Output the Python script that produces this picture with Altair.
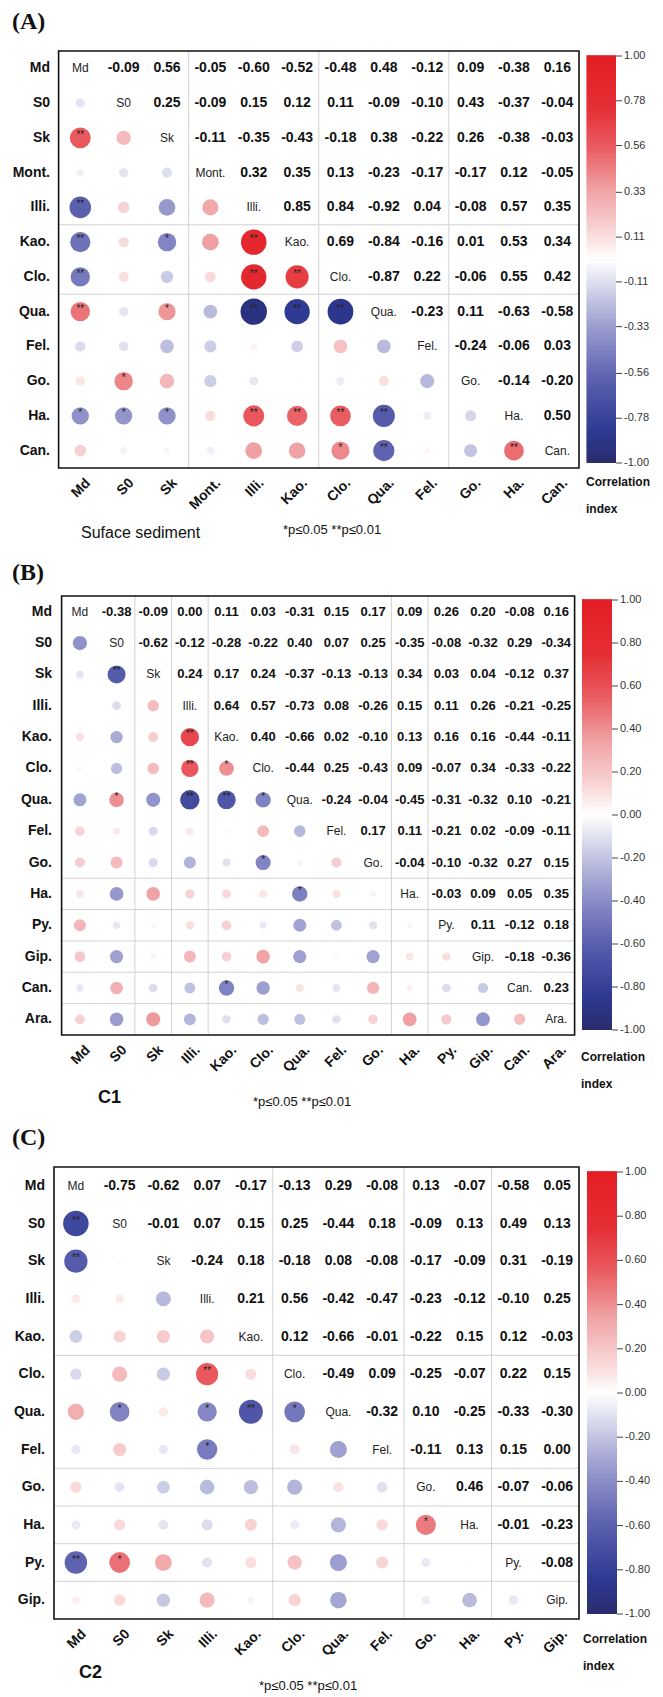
import altair as alt
import pandas as pd
import numpy as np

# ---------------- data ----------------
A_names = ["Md", "S0", "Sk", "Mont.", "Illi.", "Kao.", "Clo.", "Qua.", "Fel.", "Go.", "Ha.", "Can."]
A_upper = [
    [-0.09, 0.56, -0.05, -0.60, -0.52, -0.48, 0.48, -0.12, 0.09, -0.38, 0.16],
    [0.25, -0.09, 0.15, 0.12, 0.11, -0.09, -0.10, 0.43, -0.37, -0.04],
    [-0.11, -0.35, -0.43, -0.18, 0.38, -0.22, 0.26, -0.38, -0.03],
    [0.32, 0.35, 0.13, -0.23, -0.17, -0.17, 0.12, -0.05],
    [0.85, 0.84, -0.92, 0.04, -0.08, 0.57, 0.35],
    [0.69, -0.84, -0.16, 0.01, 0.53, 0.34],
    [-0.87, 0.22, -0.06, 0.55, 0.42],
    [-0.23, 0.11, -0.63, -0.58],
    [-0.24, -0.06, 0.03],
    [-0.14, -0.20],
    [0.50],
]
A_stars = [("Sk", "Md", "**"), ("Illi.", "Md", "**"), ("Kao.", "Md", "**"), ("Kao.", "Sk", "*"),
           ("Kao.", "Illi.", "**"), ("Clo.", "Md", "**"), ("Clo.", "Illi.", "**"), ("Clo.", "Kao.", "**"),
           ("Qua.", "Md", "**"), ("Qua.", "Sk", "*"), ("Qua.", "Illi.", "**"), ("Qua.", "Kao.", "**"),
           ("Qua.", "Clo.", "**"), ("Go.", "S0", "*"), ("Ha.", "Md", "*"), ("Ha.", "S0", "*"),
           ("Ha.", "Sk", "*"), ("Ha.", "Illi.", "**"), ("Ha.", "Kao.", "**"), ("Ha.", "Clo.", "**"),
           ("Ha.", "Qua.", "**"), ("Can.", "Clo.", "*"), ("Can.", "Qua.", "**"), ("Can.", "Ha.", "**")]
A_vlines = ["Mont.", "Clo.", "Go."]
A_hlines = ["Kao.", "Qua."]
A_ticks = ["1.00", "0.78", "0.56", "0.33", "0.11", "-0.11", "-0.33", "-0.56", "-0.78", "-1.00"]

B_names = ["Md", "S0", "Sk", "Illi.", "Kao.", "Clo.", "Qua.", "Fel.", "Go.", "Ha.", "Py.", "Gip.", "Can.", "Ara."]
B_upper = [
    [-0.38, -0.09, 0.00, 0.11, 0.03, -0.31, 0.15, 0.17, 0.09, 0.26, 0.20, -0.08, 0.16],
    [-0.62, -0.12, -0.28, -0.22, 0.40, 0.07, 0.25, -0.35, -0.08, -0.32, 0.29, -0.34],
    [0.24, 0.17, 0.24, -0.37, -0.13, -0.13, 0.34, 0.03, 0.04, -0.12, 0.37],
    [0.64, 0.57, -0.73, 0.08, -0.26, 0.15, 0.11, 0.26, -0.21, -0.25],
    [0.40, -0.66, 0.02, -0.10, 0.13, 0.16, 0.16, -0.44, -0.11],
    [-0.44, 0.25, -0.43, 0.09, -0.07, 0.34, -0.33, -0.22],
    [-0.24, -0.04, -0.45, -0.31, -0.32, 0.10, -0.21],
    [0.17, 0.11, -0.21, 0.02, -0.09, -0.11],
    [-0.04, -0.10, -0.32, 0.27, 0.15],
    [-0.03, 0.09, 0.05, 0.35],
    [0.11, -0.12, 0.18],
    [-0.18, -0.36],
    [0.23],
]
B_stars = [("Sk", "S0", "**"), ("Kao.", "Illi.", "**"), ("Clo.", "Illi.", "**"), ("Clo.", "Kao.", "*"),
           ("Qua.", "S0", "*"), ("Qua.", "Illi.", "**"), ("Qua.", "Kao.", "**"), ("Qua.", "Clo.", "*"),
           ("Go.", "Clo.", "*"), ("Ha.", "Qua.", "*"), ("Can.", "Kao.", "*")]
B_vlines = ["Sk", "Illi.", "Kao.", "Ha.", "Py."]
B_hlines = ["Ha.", "Py.", "Gip.", "Can.", "Ara."]
B_ticks = ["1.00", "0.80", "0.60", "0.40", "0.20", "0.00", "-0.20", "-0.40", "-0.60", "-0.80", "-1.00"]

C_names = ["Md", "S0", "Sk", "Illi.", "Kao.", "Clo.", "Qua.", "Fel.", "Go.", "Ha.", "Py.", "Gip."]
C_upper = [
    [-0.75, -0.62, 0.07, -0.17, -0.13, 0.29, -0.08, 0.13, -0.07, -0.58, 0.05],
    [-0.01, 0.07, 0.15, 0.25, -0.44, 0.18, -0.09, 0.13, 0.49, 0.13],
    [-0.24, 0.18, -0.18, 0.08, -0.08, -0.17, -0.09, 0.31, -0.19],
    [0.21, 0.56, -0.42, -0.47, -0.23, -0.12, -0.10, 0.25],
    [0.12, -0.66, -0.01, -0.22, 0.15, 0.12, -0.03],
    [-0.49, 0.09, -0.25, -0.07, 0.22, 0.15],
    [-0.32, 0.10, -0.25, -0.33, -0.30],
    [-0.11, 0.13, 0.15, 0.00],
    [0.46, -0.07, -0.06],
    [-0.01, -0.23],
    [-0.08],
]
C_stars = [("S0", "Md", "**"), ("Sk", "Md", "**"), ("Clo.", "Illi.", "**"), ("Qua.", "S0", "*"),
           ("Qua.", "Illi.", "*"), ("Qua.", "Kao.", "**"), ("Qua.", "Clo.", "*"), ("Fel.", "Illi.", "*"),
           ("Ha.", "Go.", "*"), ("Py.", "Md", "**"), ("Py.", "S0", "*")]
C_vlines = ["Clo.", "Go.", "Py."]
C_hlines = ["Clo.", "Go.", "Ha.", "Py.", "Gip."]
C_ticks = B_ticks

# ---------------- style ----------------
OFF = 8
FONT = "Liberation Sans, Arial, Helvetica, sans-serif"
SERIF = "Liberation Serif, Times New Roman, serif"
C_DOM = [-1, -0.85, -0.6, -0.45, -0.3, -0.15, 0, 0.15, 0.35, 0.55, 0.75, 1]
C_RNG = ["#292c6c", "#2d3891", "#5a5fae", "#7d80c0", "#a4a6d3", "#d2d3e9", "#ffffff",
         "#f8d3d4", "#f0a0a3", "#e95c61", "#e52e35", "#e31e24"]


def cscale():
    return alt.Scale(domain=C_DOM, range=C_RNG, interpolate="rgb")


def one(t=""):
    return pd.DataFrame({"t": [t]})


def label(text, x, y, size, weight="normal", font=FONT, align="left", color="#111"):
    return alt.Chart(one(text)).mark_text(
        font=font, fontSize=size, fontWeight=weight, align=align, baseline="middle", color=color
    ).encode(x=alt.value(x - OFF), y=alt.value(y - OFF), text="t:N")


def panel(names, upper, stars, vlines, hlines, ticks, g):
    n = len(names)
    recs = []
    smap = {(a, b): s for a, b, s in stars}
    for i in range(n):
        for j in range(n):
            if i == j:
                kind, r = "diag", 1.0
            elif j > i:
                kind, r = "upper", upper[i][j - i - 1]
            else:
                kind, r = "lower", upper[j][i - j - 1]
            recs.append(dict(row=names[i], col=names[j], r=r, absr=abs(r), kind=kind,
                             txt=f"{r:.2f}", star=smap.get((names[i], names[j]), "")))
    df = pd.DataFrame(recs)
    L, R, T, B = [v - OFF for v in g["frame"]]

    def xs(shift=0):
        return alt.Scale(type="band", domain=names, range=[L + shift, R + shift],
                         paddingInner=0, paddingOuter=0)

    def ys(shift=0):
        return alt.Scale(type="band", domain=names, range=[T + shift, B + shift],
                         paddingInner=0, paddingOuter=0)

    X = alt.X("col:N", scale=xs(), axis=None)
    Y = alt.Y("row:N", scale=ys(), axis=None)
    layers = []
    # grid lines
    layers.append(alt.Chart(pd.DataFrame({"col": vlines})).mark_rule(color="#d2d2d2", strokeWidth=1).encode(
        x=alt.X("col:N", scale=xs(), axis=None, bandPosition=0), y=alt.value(T), y2=alt.value(B)))
    layers.append(alt.Chart(pd.DataFrame({"row": hlines})).mark_rule(color="#d2d2d2", strokeWidth=1).encode(
        y=alt.Y("row:N", scale=ys(), axis=None, bandPosition=0), x=alt.value(L), x2=alt.value(R)))
    # circles
    low = df[df.kind == "lower"]
    layers.append(alt.Chart(low).mark_circle(opacity=1).encode(
        x=X, y=Y,
        color=alt.Color("r:Q", scale=cscale(), legend=None),
        size=alt.Size("absr:Q", scale=alt.Scale(domain=[0, 1], range=g["size"]), legend=None)))
    layers.append(alt.Chart(low[low.star != ""]).mark_text(font=FONT, fontSize=10, dy=-3, color="#222").encode(
        x=X, y=Y, text="star:N"))
    # numbers
    layers.append(alt.Chart(df[df.kind == "upper"]).mark_text(
        font=FONT, fontSize=g["nfs"], fontWeight="bold", color="#111").encode(x=X, y=Y, text="txt:N"))
    layers.append(alt.Chart(df[df.kind == "diag"]).mark_text(
        font=FONT, fontSize=12, color="#222").encode(x=X, y=Y, text="row:N"))
    # frame
    layers.append(alt.Chart(one()).mark_rect(filled=False, stroke="#111", strokeWidth=1.6).encode(
        x=alt.value(L), x2=alt.value(R), y=alt.value(T), y2=alt.value(B)))
    # row labels
    nd = pd.DataFrame({"name": names})
    layers.append(alt.Chart(nd).mark_text(font=FONT, fontSize=14, fontWeight="bold", align="right",
                                          baseline="middle", color="#111").encode(
        x=alt.value(g["rowlab"] - OFF), y=alt.Y("name:N", scale=ys(), axis=None), text="name:N"))
    # column labels (rotated)
    layers.append(alt.Chart(nd).mark_text(font=FONT, fontSize=14, fontWeight="bold", align="right",
                                          baseline="middle", angle=315, color="#111").encode(
        x=alt.X("name:N", scale=xs(8), axis=None), y=alt.value(B + 13), text="name:N"))
    # colorbar
    cx0, cx1, cy0, cy1 = g["cbar"]
    cx0 -= OFF; cx1 -= OFF; cy0 -= OFF; cy1 -= OFF
    steps = np.linspace(-1, 1, 161)
    cb = pd.DataFrame({"lo": steps[:-1], "hi": steps[1:] + 0.004, "mid": (steps[:-1] + steps[1:]) / 2})
    cys = alt.Scale(domain=[-1, 1], range=[cy1, cy0])
    layers.append(alt.Chart(cb).mark_rect(strokeWidth=0).encode(
        x=alt.value(cx0), x2=alt.value(cx1),
        y=alt.Y("lo:Q", scale=cys, axis=None), y2="hi:Q",
        color=alt.Color("mid:Q", scale=cscale(), legend=None)))
    td = pd.DataFrame({"lab": ticks, "v": [float(t) for t in ticks]})
    layers.append(alt.Chart(td).mark_rule(color="#444", strokeWidth=1).encode(
        x=alt.value(cx1), x2=alt.value(cx1 + 6), y=alt.Y("v:Q", scale=cys, axis=None)))
    layers.append(alt.Chart(td).mark_text(font=FONT, fontSize=11, align="left", baseline="middle",
                                          color="#333").encode(
        x=alt.value(cx1 + 8), y=alt.Y("v:Q", scale=cys, axis=None), text="lab:N"))
    # texts
    layers.append(label(g["title"], 12, g["title_y"], 24, "bold", SERIF))
    layers.append(label("Correlation", g["corr"][0], g["corr"][1], 12, "bold"))
    layers.append(label("index", g["corr"][0], g["corr"][1] + 27, 12, "bold"))
    layers.append(label(g["name"], g["name_xy"][0], g["name_xy"][1], g["name_fs"], g["name_w"]))
    layers.append(label("*p\u22640.05  **p\u22640.01", g["p_xy"][0], g["p_xy"][1], 13))
    return layers


GA = dict(frame=(58.6, 579, 51, 468), cbar=(586.5, 616, 56, 463), rowlab=50, size=[20, 760], nfs=14,
          title="(A)", title_y=22, corr=(586, 482), name="Suface sediment", name_xy=(81, 533), name_fs=16,
          name_w="normal", p_xy=(283, 530))
GB = dict(frame=(61.6, 574.6, 596, 1035), cbar=(582, 612, 600, 1030), rowlab=52, size=[15, 515], nfs=13,
          title="(B)", title_y=573, corr=(581, 1057), name="C1", name_xy=(98, 1098), name_fs=18,
          name_w="bold", p_xy=(253, 1102))
GC = dict(frame=(54, 579, 1167, 1619), cbar=(587, 617, 1172, 1614), rowlab=45, size=[20, 860], nfs=14,
          title="(C)", title_y=1138, corr=(583, 1639), name="C2", name_xy=(79, 1673), name_fs=18,
          name_w="bold", p_xy=(259, 1686))

layers = (panel(A_names, A_upper, A_stars, A_vlines, A_hlines, A_ticks, GA)
          + panel(B_names, B_upper, B_stars, B_vlines, B_hlines, B_ticks, GB)
          + panel(C_names, C_upper, C_stars, C_vlines, C_hlines, C_ticks, GC))

chart = alt.layer(*layers).resolve_scale(
    x="independent", y="independent", color="independent", size="independent"
).properties(
    width=647, height=1689, padding=0, autosize=alt.AutoSizeParams(type="none")
).configure_view(stroke=None)

chart.save("out.html", embed_options={"renderer": "svg", "actions": False})
